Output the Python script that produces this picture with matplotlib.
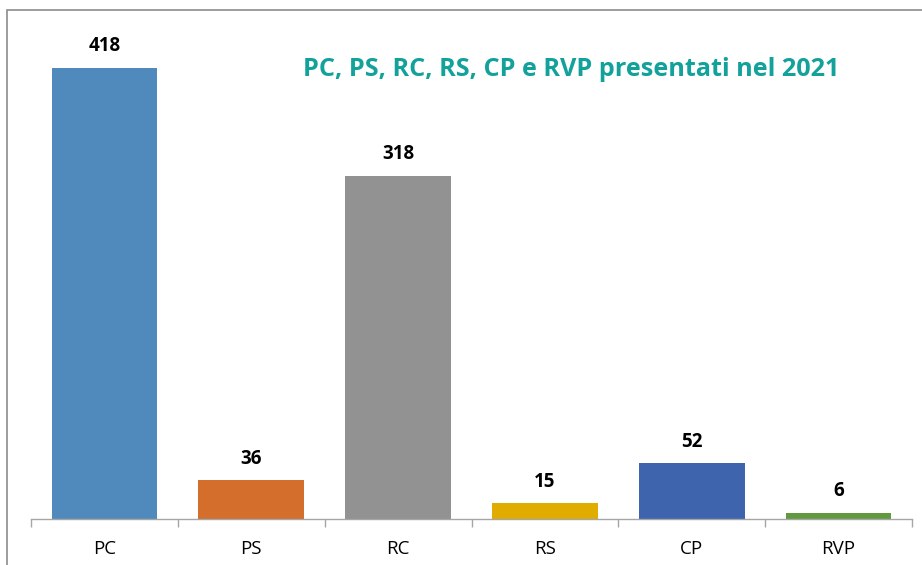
import matplotlib
matplotlib.use("Agg")
import matplotlib.pyplot as plt
from matplotlib.patches import Rectangle

categories = ["PC", "PS", "RC", "RS", "CP", "RVP"]
values = [418, 36, 318, 15, 52, 6]
colors = ["#508ABD", "#D36E2C", "#929292", "#E1AC00", "#3D64AD", "#62993E"]
title = "PC, PS, RC, RS, CP e RVP presentati nel 2021"

plt.rcParams['font.family'] = ['Open Sans', 'DejaVu Sans']

fig = plt.figure(figsize=(9.22, 5.65), dpi=100)
ax = fig.add_axes([31/922, 46/565, 881/922, (519-33)/565])

x = range(len(categories))
bars = ax.bar(x, values, width=0.72, color=colors, zorder=2)
ax.set_xlim(-0.5, len(categories) - 0.5)
ax.set_ylim(0, 450)

for xi, v in zip(x, values):
    ax.annotate(str(v), (xi, v), xytext=(0, 8), textcoords="offset points",
                ha="center", va="bottom", fontsize=13.5, fontweight="bold", color="#000000")

ax.set_xticks([i - 0.5 for i in range(len(categories) + 1)])
ax.set_xticklabels([])
ax.set_xticks(list(x), minor=True)
ax.set_xticklabels(categories, minor=True, fontsize=13.5, color="#000000")
ax.tick_params(axis="x", which="major", length=6, color="#A6A6A6", width=1, direction="out")
ax.tick_params(axis="x", which="minor", length=0, pad=15)
ax.set_yticks([])
for s in ["top", "right", "left"]:
    ax.spines[s].set_visible(False)
ax.spines["bottom"].set_color("#A6A6A6")
ax.spines["bottom"].set_linewidth(1)

fig.text(571/922, 1 - 70/565, title, ha="center", va="center",
         fontsize=18.2, fontweight="bold", color="#12A19B")

frame = Rectangle((7/922, -0.2), 1.2, 0.2 + (1 - 10/565), transform=fig.transFigure,
                  fill=False, edgecolor="#8C8C8C", linewidth=1.2)
fig.patches.append(frame)

fig.savefig("out.png", dpi=100)
